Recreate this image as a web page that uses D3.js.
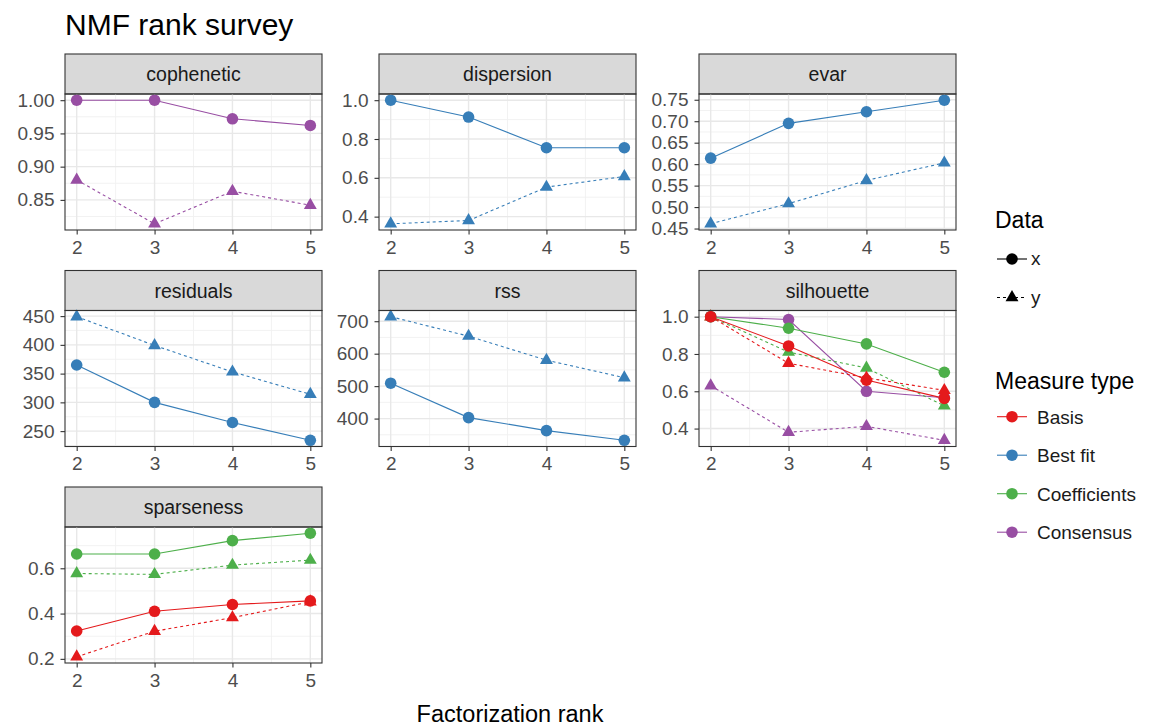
<!DOCTYPE html>
<html>
<head>
<meta charset="utf-8">
<script src="https://cdn.jsdelivr.net/npm/d3@7"></script>
<style>
  body { margin: 0; background: #fff; }
  text { font-family: "Liberation Sans", Arial, sans-serif; }
</style>
</head>
<body>
<div id="chart"></div>
<script>
// ranks on the x axis, and the facets
const ranks = [2, 3, 4, 5];
const panels = ["cophenetic", "dispersion", "evar", "residuals", "rss", "silhouette", "sparseness"];
const measureTypes = ["Basis", "Best fit", "Coefficients", "Consensus"];
const typeColors = ["#E41A1C", "#377EB8", "#4DAF4A", "#984EA3"];
const dataKinds = ["x", "y"];

// values per rank 2..5
const copheneticConsX = [1.000, 1.000, 0.972, 0.962];
const copheneticConsY = [0.880, 0.814, 0.863, 0.842];
const dispersionBestX = [1.000, 0.913, 0.755, 0.755];
const dispersionBestY = [0.363, 0.380, 0.552, 0.607];
const evarBestX = [0.614, 0.695, 0.722, 0.749];
const evarBestY = [0.461, 0.508, 0.562, 0.603];
const residualsBestX = [365, 300, 265, 234];
const residualsBestY = [449, 399, 353, 314];
const rssBestX = [509, 403, 363, 333];
const rssBestY = [714, 654, 580, 526];
const silhouetteBasisX = [1.000, 0.843, 0.660, 0.562];
const silhouetteBasisY = [1.000, 0.750, 0.672, 0.605];
const silhouetteCoefX = [1.000, 0.938, 0.854, 0.702];
const silhouetteCoefY = [1.000, 0.810, 0.725, 0.522];
const silhouetteConsX = [1.000, 0.985, 0.600, 0.565];
const silhouetteConsY = [0.630, 0.380, 0.412, 0.337];
const sparsenessBasisX = [0.323, 0.410, 0.440, 0.456];
const sparsenessBasisY = [0.209, 0.322, 0.382, 0.452];
const sparsenessCoefX = [0.663, 0.663, 0.722, 0.755];
const sparsenessCoefY = [0.577, 0.573, 0.614, 0.636];

// y tick labels per facet
const copheneticTicks = ["0.85", "0.90", "0.95", "1.00"];
const dispersionTicks = ["0.4", "0.6", "0.8", "1.0"];
const evarTicks = ["0.45", "0.50", "0.55", "0.60", "0.65", "0.70", "0.75"];
const residualsTicks = ["250", "300", "350", "400", "450"];
const rssTicks = ["400", "500", "600", "700"];
const silhouetteTicks = ["0.4", "0.6", "0.8", "1.0"];
const sparsenessTicks = ["0.2", "0.4", "0.6"];

const series = [
  ["cophenetic", "Consensus", "x", copheneticConsX],
  ["cophenetic", "Consensus", "y", copheneticConsY],
  ["dispersion", "Best fit", "x", dispersionBestX],
  ["dispersion", "Best fit", "y", dispersionBestY],
  ["evar", "Best fit", "x", evarBestX],
  ["evar", "Best fit", "y", evarBestY],
  ["residuals", "Best fit", "x", residualsBestX],
  ["residuals", "Best fit", "y", residualsBestY],
  ["rss", "Best fit", "x", rssBestX],
  ["rss", "Best fit", "y", rssBestY],
  ["silhouette", "Consensus", "x", silhouetteConsX],
  ["silhouette", "Consensus", "y", silhouetteConsY],
  ["silhouette", "Coefficients", "x", silhouetteCoefX],
  ["silhouette", "Coefficients", "y", silhouetteCoefY],
  ["silhouette", "Basis", "x", silhouetteBasisX],
  ["silhouette", "Basis", "y", silhouetteBasisY],
  ["sparseness", "Coefficients", "x", sparsenessCoefX],
  ["sparseness", "Coefficients", "y", sparsenessCoefY],
  ["sparseness", "Basis", "x", sparsenessBasisX],
  ["sparseness", "Basis", "y", sparsenessBasisY],
].map(([measure, type, kind, values]) => ({ measure, type, kind, values }));

const tickSets = {
  cophenetic: copheneticTicks, dispersion: dispersionTicks, evar: evarTicks,
  residuals: residualsTicks, rss: rssTicks, silhouette: silhouetteTicks,
  sparseness: sparsenessTicks,
};

const width = 1152, height = 726;
const colLeft = [65, 379, 699];
const panelW = 257, plotH = 136, stripH = 40;
const plotTop0 = 94, rowStep = 216.5;

const color = d3.scaleOrdinal().domain(measureTypes).range(typeColors);
const dashes = { x: null, y: "3,3" };
const triangle = d3.symbol().type(d3.symbolTriangle).size(72);

const svg = d3.select("#chart").append("svg")
  .attr("width", width)
  .attr("height", height)
  .attr("viewBox", [0, 0, width, height]);

function marker(g, kind, cx, cy, fill) {
  if (kind === "x") {
    g.append("circle").attr("cx", cx).attr("cy", cy).attr("r", 5.8).attr("fill", fill);
  } else {
    g.append("path").attr("d", triangle()).attr("transform", `translate(${cx},${cy})`).attr("fill", fill);
  }
}

panels.forEach((name, i) => {
  const left = colLeft[i % 3];
  const top = plotTop0 + Math.floor(i / 3) * rowStep;
  const bottom = top + plotH;
  const rows = series.filter((s) => s.measure === name);

  const x = d3.scaleLinear().domain([2 - 0.15, 5 + 0.15]).range([left, left + panelW]);
  const [lo, hi] = d3.extent(rows.flatMap((s) => s.values));
  const pad = (hi - lo) * 0.05;
  const y = d3.scaleLinear().domain([lo - pad, hi + pad]).range([bottom, top]);

  const ticks = tickSets[name].map(Number);
  const step = ticks[1] - ticks[0];
  const yMinor = [ticks[0] - step / 2, ...ticks.map((t) => t + step / 2)]
    .filter((v) => v > y.domain()[0] && v < y.domain()[1]);
  const xMinor = [2.5, 3.5, 4.5];

  const g = svg.append("g");

  // strip
  g.append("rect")
    .attr("x", left).attr("y", top - stripH)
    .attr("width", panelW).attr("height", stripH)
    .attr("fill", "#D9D9D9").attr("stroke", "#333").attr("stroke-width", 1.1);
  g.append("text")
    .attr("x", left + panelW / 2).attr("y", top - stripH / 2 + 7)
    .attr("text-anchor", "middle").attr("font-size", 19.5).attr("fill", "#1A1A1A")
    .text(name);

  // grid
  const grid = g.append("g");
  grid.selectAll(".ym").data(yMinor).join("line")
    .attr("x1", left).attr("x2", left + panelW)
    .attr("y1", (d) => y(d)).attr("y2", (d) => y(d))
    .attr("stroke", "#F0F0F0").attr("stroke-width", 0.9);
  grid.selectAll(".xm").data(xMinor).join("line")
    .attr("y1", top).attr("y2", bottom)
    .attr("x1", (d) => x(d)).attr("x2", (d) => x(d))
    .attr("stroke", "#F0F0F0").attr("stroke-width", 0.9);
  grid.selectAll(".yM").data(ticks).join("line")
    .attr("x1", left).attr("x2", left + panelW)
    .attr("y1", (d) => y(d)).attr("y2", (d) => y(d))
    .attr("stroke", "#E8E8E8").attr("stroke-width", 1.4);
  grid.selectAll(".xM").data(ranks).join("line")
    .attr("y1", top).attr("y2", bottom)
    .attr("x1", (d) => x(d)).attr("x2", (d) => x(d))
    .attr("stroke", "#E8E8E8").attr("stroke-width", 1.4);

  // lines, then points
  const line = d3.line().x((d, j) => x(ranks[j])).y((d) => y(d));
  rows.forEach((s) => {
    g.append("path")
      .attr("d", line(s.values))
      .attr("fill", "none")
      .attr("stroke", color(s.type))
      .attr("stroke-width", 1.1)
      .attr("stroke-dasharray", dashes[s.kind]);
  });
  rows.forEach((s) => {
    s.values.forEach((v, j) => marker(g, s.kind, x(ranks[j]), y(v), color(s.type)));
  });

  // border
  g.append("rect")
    .attr("x", left).attr("y", top).attr("width", panelW).attr("height", plotH)
    .attr("fill", "none").attr("stroke", "#333").attr("stroke-width", 1.1);

  // axes
  g.append("g")
    .attr("transform", `translate(0,${bottom})`)
    .call(d3.axisBottom(x).tickValues(ranks).tickSize(4.5).tickPadding(6).tickFormat(d3.format("d")))
    .call((a) => a.select(".domain").remove())
    .call((a) => a.selectAll(".tick line").attr("stroke", "#333").attr("stroke-width", 1.1))
    .call((a) => a.selectAll("text").attr("fill", "#4D4D4D"))
    .attr("font-size", 19).attr("font-family", null);

  g.append("g")
    .attr("transform", `translate(${left},0)`)
    .call(d3.axisLeft(y).tickValues(ticks).tickSize(4.5).tickPadding(6)
      .tickFormat((d, j) => tickSets[name][j]))
    .call((a) => a.select(".domain").remove())
    .call((a) => a.selectAll(".tick line").attr("stroke", "#333").attr("stroke-width", 1.1))
    .call((a) => a.selectAll("text").attr("fill", "#4D4D4D"))
    .attr("font-size", 19).attr("font-family", null);
});

// titles
svg.append("text").attr("x", 65).attr("y", 35)
  .attr("font-size", 30).attr("fill", "#000").text("NMF rank survey");
svg.append("text").attr("x", 510).attr("y", 722)
  .attr("text-anchor", "middle").attr("font-size", 23.5).attr("fill", "#000")
  .text("Factorization rank");

// legends
const legend = svg.append("g");
const keyX1 = 997, keyX2 = 1027, keyMid = 1012, labelX = 1037;

legend.append("text").attr("x", 995).attr("y", 228)
  .attr("font-size", 23).text("Data");
dataKinds.forEach((k, j) => {
  const cy = 259 + j * 38.5;
  legend.append("line")
    .attr("x1", keyX1).attr("x2", keyX2).attr("y1", cy).attr("y2", cy)
    .attr("stroke", "#000").attr("stroke-width", 1.1).attr("stroke-dasharray", dashes[k]);
  marker(legend, k, keyMid, cy, "#000");
  legend.append("text").attr("x", labelX - 6).attr("y", cy + 6)
    .attr("font-size", 19).attr("fill", "#1A1A1A").text(k);
});

legend.append("text").attr("x", 995).attr("y", 389)
  .attr("font-size", 23).text("Measure type");
measureTypes.forEach((t, j) => {
  const cy = 416.7 + j * 38.5;
  legend.append("line")
    .attr("x1", keyX1).attr("x2", keyX2).attr("y1", cy).attr("y2", cy)
    .attr("stroke", color(t)).attr("stroke-width", 1.1);
  marker(legend, "x", keyMid, cy, color(t));
  legend.append("text").attr("x", labelX).attr("y", cy + 7)
    .attr("font-size", 19).attr("fill", "#1A1A1A").text(t);
});
</script>
</body>
</html>
